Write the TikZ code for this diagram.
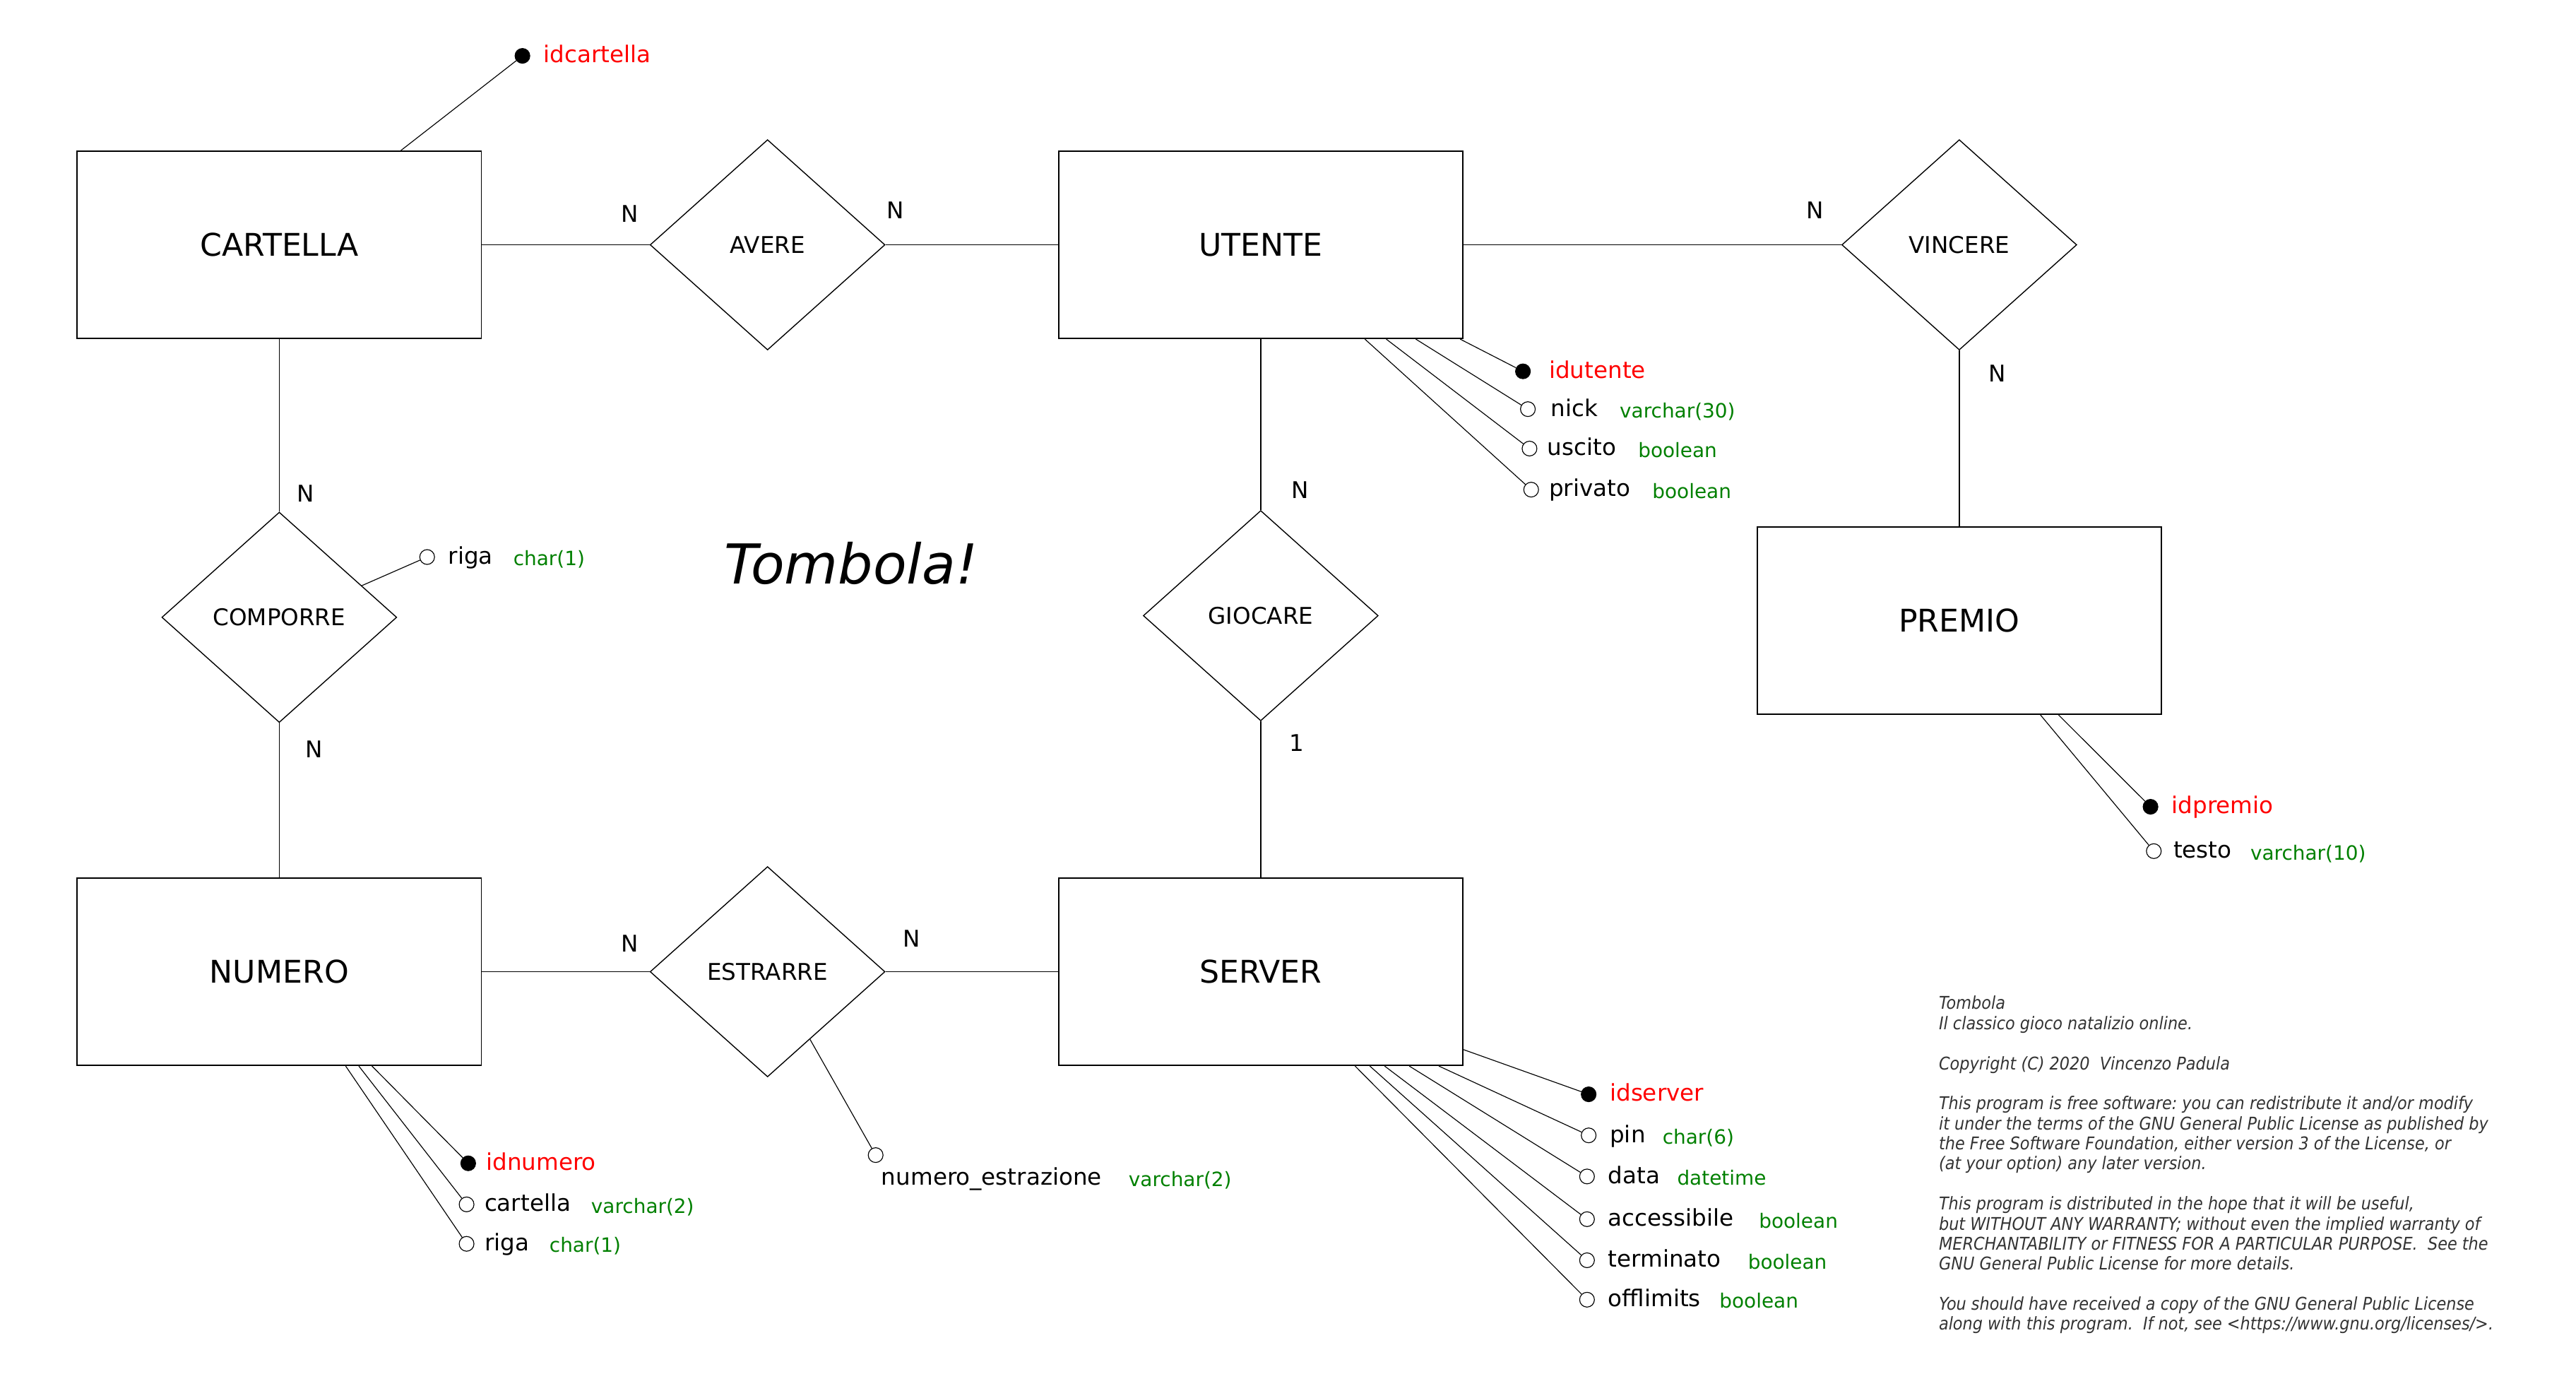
\documentclass[tikz,border=0pt]{standalone}
\usepackage{fontspec}
\setmainfont{DejaVu Sans}
\newfontfamily\licfont{DejaVu Sans Condensed Oblique}
\usepackage{xcolor}
\usepackage{tikz}
\usetikzlibrary{positioning, shapes.geometric, calc}
\definecolor{erRed}{HTML}{FF0000}
\definecolor{erGreen}{HTML}{008000}

\begin{document}
\begin{tikzpicture}[
  x=1pt, y=-1pt,
  entity/.style={
    draw,
    line width=0.8pt,
    minimum width=246pt,
    minimum height=114pt,
    inner sep=0pt,
    font=\fontsize{19}{23}\selectfont
  },
  relation/.style={
    draw,
    diamond,
    line width=0.6pt,
    minimum width=143pt,
    minimum height=128pt,
    inner sep=0pt,
    font=\fontsize{14}{17}\selectfont
  },
  link/.style={line width=0.6pt},
  attrline/.style={line width=0.5pt},
  card/.style={inner sep=0pt, font=\fontsize{14}{17}\selectfont},
  keyattr/.style={circle, draw, fill=black, line width=0.5pt, minimum size=9pt, inner sep=0pt},
  attr/.style={circle, draw, fill=white, line width=0.5pt, minimum size=9pt, inner sep=0pt},
  attrname/.style={inner sep=0pt, yshift=-1.5pt, font=\fontsize{14}{17}\selectfont},
  keyname/.style={attrname, text=erRed},
  attrtype/.style={inner sep=0pt, yshift=-1pt, text=erGreen, font=\fontsize{12}{14}\selectfont},
  lic/.style={inner sep=0pt, align=left, text=black!80, font=\licfont\fontsize{10.7}{12.2}\selectfont\frenchspacing}
]
\useasboundingbox (0,0) rectangle (1568,836);

% entities and relations
\node[entity] (cartella) at (170,149) {CARTELLA};
\node[relation, right=102pt of cartella] (avere) {AVERE};
\node[entity, right=105pt of avere] (utente) {UTENTE};
\node[relation, right=230pt of utente] (vincere) {VINCERE};
\node[entity, below=107pt of vincere] (premio) {PREMIO};
\node[relation, below=105pt of cartella] (comporre) {COMPORRE};
\node[entity, below=94pt of comporre] (numero) {NUMERO};
\node[relation, right=102pt of numero] (estrarre) {ESTRARRE};
\node[entity, right=105pt of estrarre] (server) {SERVER};
\node[relation, below=104pt of utente] (giocare) {GIOCARE};

\draw[link] (cartella.east) -- (avere.west);
\draw[link] (avere.east) -- (utente.west);
\draw[link] (utente.east) -- (vincere.west);
\draw[link] (vincere.south) -- (premio.north);
\draw[link] (cartella.south) -- (comporre.north);
\draw[link] (comporre.south) -- (numero.north);
\draw[link] (numero.east) -- (estrarre.west);
\draw[link] (estrarre.east) -- (server.west);
\draw[link] (utente.south) -- (giocare.north);
\draw[link] (giocare.south) -- (server.north);

% cardinalities
\node[card] (cAv1) at ([xshift=-12pt,yshift=19pt]avere.west) {N};
\node[card] (cAv2) at ([xshift=6pt,yshift=21pt]avere.east) {N};
\node[card] (cVi1) at ([xshift=-16pt,yshift=21pt]vincere.west) {N};
\node[card] (cVi2) at ([xshift=23pt,yshift=-14pt]vincere.south) {N};
\node[card] (cCo1) at ([xshift=16pt,yshift=11pt]comporre.north) {N};
\node[card] (cCo2) at ([xshift=21pt,yshift=-16pt]comporre.south) {N};
\node[card] (cEs1) at ([xshift=-12pt,yshift=17pt]estrarre.west) {N};
\node[card] (cEs2) at ([xshift=16pt,yshift=20pt]estrarre.east) {N};
\node[card] (cGi1) at ([xshift=24pt,yshift=12pt]giocare.north) {N};
\node[card] (cGi2) at ([xshift=22pt,yshift=-13pt]giocare.south) {1};

\node[inner sep=0pt, font=\itshape\fontsize{33.5}{40}\selectfont] (titolo) at (518,343) {Tombola!};

% attributes
\node[keyattr] (idcartella) at (318,34) {};
\draw[attrline] ([xshift=74pt]cartella.north) -- (idcartella);
\node[keyname, right=8pt of idcartella, anchor=mid west] (lidcartella) {idcartella};

\node[attr] (rigaC) at (260,339) {};
\draw[attrline] ($(comporre.east)!0.3!(comporre.north)$) -- (rigaC);
\node[attrname, right=8pt of rigaC, anchor=mid west] (lrigaC) {riga};
\node[attrtype, base right=12pt of lrigaC] (trigaC) {char(1)};

\node[keyattr] (idutente) at (927,226) {};
\node[attr] (nick) at (930,249) {};
\node[attr] (uscito) at (931,273) {};
\node[attr] (privato) at (932,298) {};
\draw[attrline] ([xshift=-2pt]utente.south east) -- (idutente);
\draw[attrline] ([xshift=-29pt]utente.south east) -- (nick);
\draw[attrline] ([xshift=-47pt]utente.south east) -- (uscito);
\draw[attrline] ([xshift=-60pt]utente.south east) -- (privato);
\node[keyname, right=11pt of idutente, anchor=mid west] (lidutente) {idutente};
\node[attrname, right=9pt of nick, anchor=mid west] (lnick) {nick};
\node[attrname, right=6pt of uscito, anchor=mid west] (luscito) {uscito};
\node[attrname, right=6pt of privato, anchor=mid west] (lprivato) {privato};
\node[attrtype, base right=13pt of lnick] (tnick) {varchar(30)};
\node[attrtype, base right=13pt of luscito] (tuscito) {boolean};
\node[attrtype, base right=13pt of lprivato] (tprivato) {boolean};

\node[keyattr] (idpremio) at (1309,491) {};
\node[attr] (testo) at (1311,518) {};
\draw[attrline] ([xshift=-63pt]premio.south east) -- (idpremio);
\draw[attrline] ([xshift=-74pt]premio.south east) -- (testo);
\node[keyname, right=8pt of idpremio, anchor=mid west] (lidpremio) {idpremio};
\node[attrname, right=7pt of testo, anchor=mid west] (ltesto) {testo};
\node[attrtype, base right=11pt of ltesto] (ttesto) {varchar(10)};

\node[keyattr] (idnumero) at (285,708) {};
\node[attr] (cartellaN) at (284,733) {};
\node[attr] (rigaN) at (284,757) {};
\draw[attrline] ([xshift=-67pt]numero.south east) -- (idnumero);
\draw[attrline] ([xshift=-75pt]numero.south east) -- (cartellaN);
\draw[attrline] ([xshift=-83pt]numero.south east) -- (rigaN);
\node[keyname, right=6pt of idnumero, anchor=mid west] (lidnumero) {idnumero};
\node[attrname, right=6pt of cartellaN, anchor=mid west] (lcartellaN) {cartella};
\node[attrname, right=6pt of rigaN, anchor=mid west] (lrigaN) {riga};
\node[attrtype, base right=12pt of lcartellaN] (tcartellaN) {varchar(2)};
\node[attrtype, base right=12pt of lrigaN] (trigaN) {char(1)};

\node[attr] (nestr) at (533,703) {};
\draw[attrline] ($(estrarre.south)!0.36!(estrarre.east)$) -- (nestr);
\node[attrname, below right=2.5pt and 0pt of nestr, anchor=north west] (lnestr) {numero\_estrazione};
\node[attrtype, base right=16pt of lnestr] (tnestr) {varchar(2)};

\node[keyattr] (idserver) at (967,666) {};
\node[attr] (pin) at (967,691) {};
\node[attr] (data) at (966,716) {};
\node[attr] (accessibile) at (966,742) {};
\node[attr] (terminato) at (966,767) {};
\node[attr] (offlimits) at (966,791) {};
\draw[attrline] ([yshift=10pt]server.south east) -- (idserver);
\draw[attrline] ([xshift=-15pt]server.south east) -- (pin);
\draw[attrline] ([xshift=-33pt]server.south east) -- (data);
\draw[attrline] ([xshift=-48pt]server.south east) -- (accessibile);
\draw[attrline] ([xshift=-57pt]server.south east) -- (terminato);
\draw[attrline] ([xshift=-66pt]server.south east) -- (offlimits);
\node[keyname, right=8pt of idserver, anchor=mid west] (lidserver) {idserver};
\node[attrname, right=8pt of pin, anchor=mid west] (lpin) {pin};
\node[attrname, right=8pt of data, anchor=mid west] (ldata) {data};
\node[attrname, right=8pt of accessibile, anchor=mid west] (laccessibile) {accessibile};
\node[attrname, right=8pt of terminato, anchor=mid west] (lterminato) {terminato};
\node[attrname, right=8pt of offlimits, anchor=mid west] (lofflimits) {offlimits};
\node[attrtype, base right=10pt of lpin] (tpin) {char(6)};
\node[attrtype, base right=10pt of ldata] (tdata) {datetime};
\node[attrtype, base right=15pt of laccessibile] (taccessibile) {boolean};
\node[attrtype, base right=16pt of lterminato] (tterminato) {boolean};
\node[attrtype, base right=11pt of lofflimits] (tofflimits) {boolean};

% licence note
\node[lic, anchor=north west] (nota) at (1180,606) {Tombola\\
Il classico gioco natalizio online.\\[12.2pt]
Copyright (C) 2020\ \ Vincenzo Padula\\[12.2pt]
This program is free software: you can redistribute it and/or modify\\
it under the terms of the GNU General Public License as published by\\
the Free Software Foundation, either version 3 of the License, or\\
(at your option) any later version.\\[12.2pt]
This program is distributed in the hope that it will be useful,\\
but WITHOUT ANY WARRANTY; without even the implied warranty of\\
MERCHANTABILITY or FITNESS FOR A PARTICULAR PURPOSE.\ \ See the\\
GNU General Public License for more details.\\[12.2pt]
You should have received a copy of the GNU General Public License\\
along with this program.\ \ If not, see <https://www.gnu.org/licenses/>.};
\end{tikzpicture}
\end{document}
